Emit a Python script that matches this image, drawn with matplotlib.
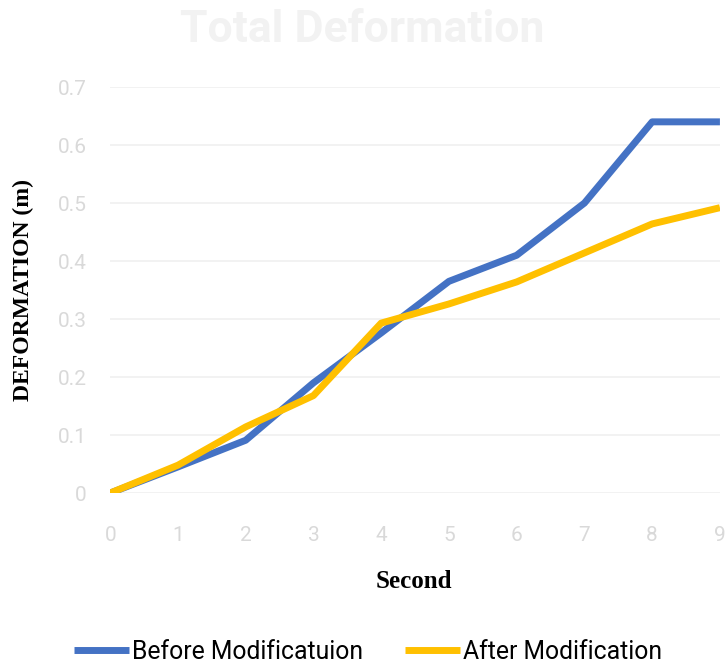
import matplotlib
matplotlib.use("Agg")
import matplotlib.pyplot as plt

# data
seconds = [0, 1, 2, 3, 4, 5, 6, 7, 8, 9]
before_mod = [0.0, 0.045, 0.091, 0.19, 0.276, 0.365, 0.41, 0.50, 0.64, 0.64]
after_mod = [0.0, 0.048, 0.114, 0.168, 0.293, 0.326, 0.364, 0.414, 0.464, 0.492]
y_ticks = [0, 0.1, 0.2, 0.3, 0.4, 0.5, 0.6, 0.7]
y_tick_labels = ["0", "0.1", "0.2", "0.3", "0.4", "0.5", "0.6", "0.7"]

fig = plt.figure(figsize=(7.25, 6.65), dpi=100)
ax = fig.add_axes([0.152, 0.2586, 0.841, 0.6105])

ax.plot(seconds, before_mod, color="#4472C4", lw=5, solid_capstyle="butt",
        label="Before Modificatuion")
ax.plot(seconds, after_mod, color="#FFC000", lw=5, solid_capstyle="butt",
        label="After Modification")

ax.set_xlim(0, 9)
ax.set_ylim(0, 0.7)
ax.set_xticks(seconds)
ax.set_yticks(y_ticks)
ax.set_yticklabels(y_tick_labels)
ax.grid(axis="y", color="#f0f0f0", lw=1.2)
ax.set_axisbelow(True)
for s in ax.spines.values():
    s.set_visible(False)
ax.tick_params(length=0, colors="#d9d9d9", labelsize=15)
ax.tick_params(axis="x", pad=24)
ax.tick_params(axis="y", pad=17)
for lab in ax.get_xticklabels() + ax.get_yticklabels():
    lab.set_family("Roboto")

fig.text(0.5, 0.955, "Total Deformation", ha="center", va="center",
         fontsize=32, fontweight="bold", color="#f2f2f2", family="Roboto")
fig.text(0.032, 0.564, "DEFORMATION (m)", rotation=90, ha="center", va="center",
         fontsize=17, fontweight="bold", family="Liberation Serif")
fig.text(0.571, 0.125, "Second", ha="center", va="center",
         fontsize=18, fontweight="bold", family="Liberation Serif")

leg = fig.legend(loc="center", bbox_to_anchor=(0.508, 0.02), ncol=2, frameon=False,
                 prop={"family": "Roboto", "size": 17.8},
                 handlelength=2.2, handletextpad=0.15, columnspacing=1.7)

fig.savefig("out.png", dpi=100)
